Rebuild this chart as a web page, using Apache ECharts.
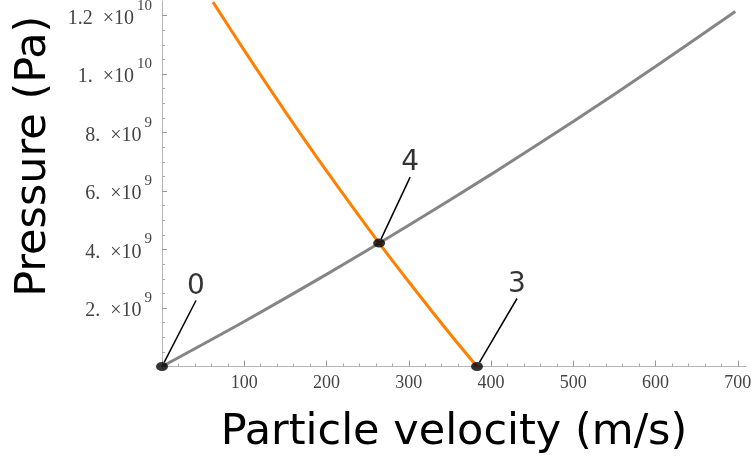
<!DOCTYPE html>
<html>
<head>
<meta charset="utf-8">
<script src="https://cdn.jsdelivr.net/npm/echarts@6/dist/echarts.min.js"></script>
<style>
html, body { margin: 0; padding: 0; background: #fff; }
#chart { width: 755px; height: 456px; }
</style>
</head>
<body>
<div id="chart"></div>
<script>
// grey curve
var greyU = [0, 100, 200, 300, 400, 500, 600, 697];
var greyP = [0, 1.54e9, 3.15e9, 4.83e9, 6.57e9, 8.38e9, 1.026e10, 1.214e10];
// orange curve
var orangeU = [62, 100, 150, 200, 264, 300, 350, 383];
var orangeP = [1.246e10, 1.081e10, 8.71e9, 6.69e9, 4.22e9, 2.9e9, 1.12e9, 0];
// marked states
var stateNames = ['0', '4', '3'];
var stateU = [0, 264, 383];
var stateP = [0, 4.22e9, 0];

// ticks
var xTicks = [0, 100, 200, 300, 400, 500, 600, 700];
var xLabels = [100, 200, 300, 400, 500, 600, 700];
var yTicks = [0, 2e9, 4e9, 6e9, 8e9, 1e10, 1.2e10];
var yLabels = [2e9, 4e9, 6e9, 8e9, 1e10, 1.2e10];
var yMantissa = ['2.', '4.', '6.', '8.', '1.', '1.2'];
var yExponent = ['9', '9', '9', '9', '10', '10'];

function minors(majors, parts) {
    var out = [];
    for (var i = 0; i < majors.length - 1; i++) {
        var step = (majors[i + 1] - majors[i]) / parts;
        for (var k = 1; k < parts; k++) out.push(majors[i] + k * step);
    }
    return out;
}

var labelOffsets = [[34, -80], [31, -80], [40, -82]];

function pairs(xs, ys) {
    return xs.map(function (x, i) { return [x, ys[i]]; });
}

var chart = echarts.init(document.getElementById('chart'));

var axisGrey = '#b5b5b5';
var tickFont = 'Liberation Serif';

var option = {
    animation: false,
    grid: { left: 162, right: 9, top: 1, bottom: 89.5, outerBoundsMode: 'none' },
    xAxis: [
        {
            type: 'value', min: 0, max: 710,
            name: 'Particle velocity (m/s)',
            nameLocation: 'middle', nameGap: 45,
            nameTextStyle: { fontFamily: 'DejaVu Sans', fontSize: 43, color: '#000' },
            axisLine: { lineStyle: { color: axisGrey, width: 1 } },
            axisTick: { inside: true, length: 6, customValues: xTicks, lineStyle: { color: '#999' } },
            axisLabel: {
                customValues: xLabels, margin: 8,
                fontFamily: tickFont, fontSize: 18, color: '#444'
            },
            splitLine: { show: false }
        },
        {
            type: 'value', min: 0, max: 710, position: 'bottom',
            axisLine: { show: false },
            axisTick: { inside: true, length: 3, customValues: minors(xTicks, 5), lineStyle: { color: '#aaa' } },
            axisLabel: { show: false },
            splitLine: { show: false }
        }
    ],
    yAxis: [
        {
            type: 'value', min: 0, max: 1.25e10,
            name: 'Pressure (Pa)',
            nameLocation: 'middle', nameGap: 107,
            nameTextStyle: { fontFamily: 'DejaVu Sans', fontSize: 43, color: '#000', padding: [0, 0, 0, 55] },
            axisLine: { lineStyle: { color: axisGrey, width: 1 } },
            axisTick: { inside: true, length: 5, customValues: yTicks, lineStyle: { color: '#999' } },
            axisLabel: {
                customValues: yLabels, margin: 10,
                formatter: function (v) {
                    var i = yLabels.indexOf(v);
                    if (i < 0) return '';
                    return '{m|' + yMantissa[i] + '  \u00d710}{s|' + yExponent[i] + '}';
                },
                rich: {
                    m: { fontFamily: tickFont, fontSize: 20, color: '#444', padding: [6, 0, 0, 0] },
                    s: { fontFamily: tickFont, fontSize: 15, color: '#444', padding: [0, 0, 20, 3] }
                }
            },
            splitLine: { show: false }
        },
        {
            type: 'value', min: 0, max: 1.25e10, position: 'left',
            axisLine: { show: false },
            axisTick: { inside: true, length: 3, customValues: minors(yTicks, 4), lineStyle: { color: '#aaa' } },
            axisLabel: { show: false },
            splitLine: { show: false }
        }
    ],
    series: [
        {
            type: 'line', data: pairs(greyU, greyP), smooth: 0.3,
            showSymbol: false, lineStyle: { color: '#858585', width: 3 }
        },
        {
            type: 'line', data: pairs(orangeU, orangeP), smooth: 0.3,
            showSymbol: false, lineStyle: { color: '#ff8000', width: 3 }
        },
        {
            type: 'scatter', data: pairs(stateU, stateP),
            symbol: 'circle', symbolSize: [12, 9],
            itemStyle: { color: '#000' },
            z: 5,
            label: {
                show: true, position: 'inside',
                formatter: function (p) { return stateNames[p.dataIndex]; },
                fontFamily: 'DejaVu Sans', fontSize: 28, color: '#000'
            },
            labelLayout: function (p) {
                var o = labelOffsets[p.dataIndex];
                return { dx: o[0], dy: o[1] };
            },
            labelLine: { show: true, lineStyle: { color: '#000', width: 1.5 } }
        }
    ]
};

chart.setOption(option);
</script>
</body>
</html>
